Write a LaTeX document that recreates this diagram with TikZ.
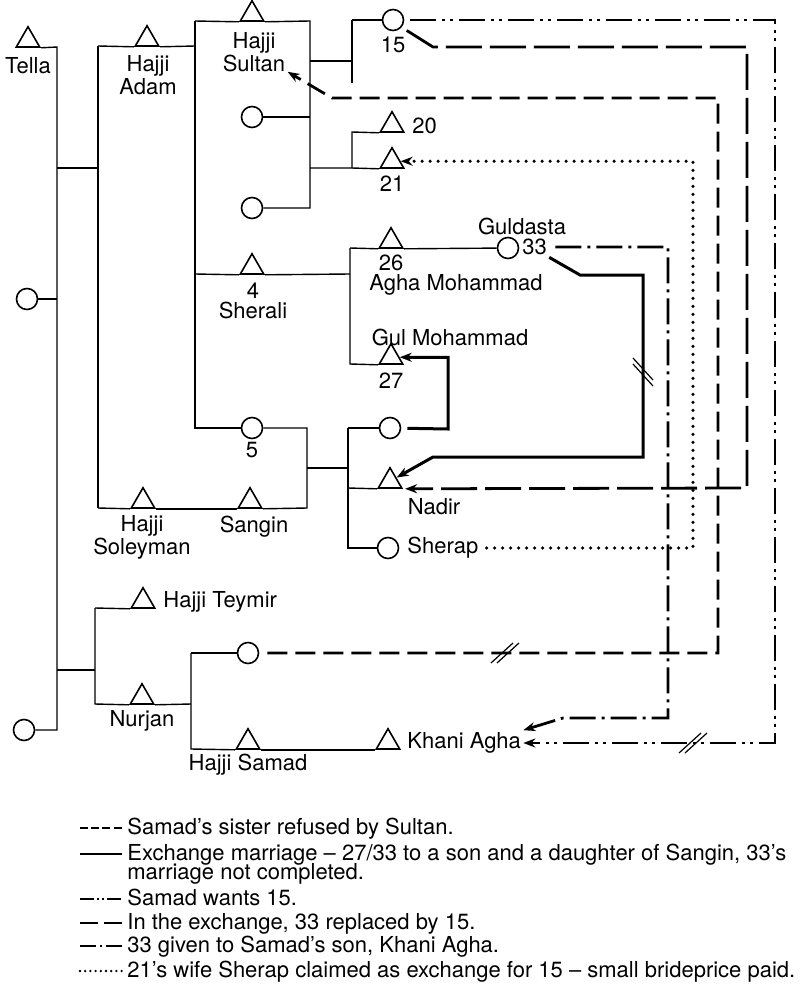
\documentclass[tikz,border=0pt]{standalone}
\usepackage{fontspec}
\setmainfont{TeX Gyre Heros}
\usepackage{tikz}
\usetikzlibrary{arrows.meta,shapes.geometric}
\tikzset{
  male/.style    ={regular polygon,regular polygon sides=3,draw,fill=white,line width=0.8pt,minimum size=13.5pt,inner sep=0pt},
  female/.style  ={circle,draw,fill=white,line width=0.8pt,minimum size=10.5pt,inner sep=0pt},
  kin/.style     ={line width=0.7pt},
  lbl/.style     ={font=\fontsize{11}{10}\selectfont,inner sep=1pt,align=center},
  refused/.style ={line width=1.4pt,dash pattern=on 10pt off 4pt},
  exch/.style    ={line width=1.5pt},
  wants/.style   ={line width=1.4pt,dash pattern=on 13pt off 3pt on 1.5pt off 2.5pt on 1.5pt off 3pt},
  replaced/.style={line width=1.4pt,dash pattern=on 18pt off 4pt},
  given/.style   ={line width=1.4pt,dash pattern=on 13pt off 3pt on 1.5pt off 3pt},
  claim/.style   ={line width=1.8pt,line cap=round,dash pattern=on 0pt off 4pt},
  arr/.style     ={-{Stealth[length=6pt,width=4.5pt]}},
  brk/.pic       ={\draw[line width=0.6pt] (-14,10) -- (8,-10) (-8,10) -- (14,-10);},
  % shorter patterns for the key
  key-refused/.style ={refused,line width=1.1pt,dash pattern=on 4pt off 1.6pt},
  key-exch/.style    ={line width=0.9pt},
  key-wants/.style   ={wants,line width=1.1pt,dash pattern=on 7pt off 1.5pt on 1pt off 1.5pt on 1pt off 1.5pt},
  key-replaced/.style={replaced,line width=1.1pt,dash pattern=on 9pt off 3pt},
  key-given/.style   ={given,line width=1.1pt,dash pattern=on 8pt off 2pt on 1pt off 2pt},
  key-claim/.style   ={claim,line width=1.3pt,dash pattern=on 0pt off 2.6pt},
}
\begin{document}
\begin{tikzpicture}[x=0.5pt,y=-0.5pt]
  \useasboundingbox (0,0) rectangle (806,985);
  % people
  \foreach \n/\x/\y in {tella/28/40.25,adam/147/39.25,sultan/252/14.25,t20/392/125.25,t21/392/161.25,
      sherali/252/267.25,t26/391/241.25,t27/391/357.25,soley/143/501.25,sangin/250/501.25,
      nadir/390/481.25,teymir/143/601.25,nurjan/142/697.25,samad/248/742.25,khani/388/742.25}
     \node[male] (\n) at (\x,\y){};
  \foreach \n/\x/\y in {w1/27/299,w2/24/730,wa/252/117,wb/252/208,c15/393/20,c33/508/248,
      five/252/428,cu/390/428,sherap/388/548,cs/248/653}
     \node[female] (\n) at (\x,\y){};
  % junctions
  \foreach \n/\x/\y in {v0/57/47,v1/57/168,v2/57/299,v3/57/670,v4/57/730,
      a0/98/46,a1/98/168,a2/98/508,b0/195/21,b1/195/46,b2/195/274,b3/195/428,
      e0/310/21,e1/310/61,e2/310/117,e3/310/168,e4/310/208,
      f0/352/20,f1/352/61,f2/352/83,f3/352/132,f4/352/168,
      g0/350/248,g1/350/274,g2/350/364,c0/307/428,c1/307/468,c2/307/508,
      d0/348/428,d1/348/468,d2/348/488,d3/348/548,h0/95/608,h1/95/670,h2/95/704,
      i0/191/653,i1/191/704,i2/191/749}
     \coordinate (\n) at (\x,\y);
  \begin{scope}[kin]
    \draw (tella.corner 3)--(v0)--(v4)--(w2);
    \draw (w1)--(v2);
    \draw (v1)--(a1);
    \draw (v3)--(h1);
    \draw (a0)--(a2);
    \draw (a0)--(adam.corner 2);
    \draw (adam.corner 3)--(b1);
    \draw (a2)--(soley.corner 2);
    \draw (soley.corner 3)--(sangin.corner 2);
    \draw (sangin.corner 3)--(c2)--(c0)--(five);
    \draw (b0)--(b3)--(five);
    \draw (b0)--(sultan.corner 2);
    \draw (sultan.corner 3)--(e0)--(e4)--(wb);
    \draw (wa)--(e2);
    \draw (e1)--(f1);
    \draw (f0)--(f2);
    \draw (f0)--(c15);
    \draw (e3)--(f4)--(f3)--(t20.corner 2);
    \draw (f4)--(t21.corner 2);
    \draw (b2)--(sherali.corner 2);
    \draw (sherali.corner 3)--(g1);
    \draw (g0)--(g2)--(t27.corner 2);
    \draw (g0)--(t26.corner 2);
    \draw (t26.corner 3)--(c33);
    \draw (c1)--(d1);
    \draw (d0)--(d3)--(sherap);
    \draw (d0)--(cu);
    \draw (d2)--(nadir.corner 2);
    \draw (h0)--(h2)--(nurjan.corner 2);
    \draw (h0)--(teymir.corner 2);
    \draw (nurjan.corner 3)--(i1);
    \draw (i0)--(i2)--(samad.corner 2);
    \draw (i0)--(cs);
    \draw (samad.corner 3)--(khani.corner 2);
  \end{scope}
  % names
  \node[lbl] at (28,66){Tella};
  \node[lbl] at (148,75){Hajji\\Adam};
  \node[lbl] (sultanL) at (254,52){Hajji\\Sultan};
  \node[lbl] at (393,45){15};
  \node[lbl,anchor=west] at (410,126){20};
  \node[lbl] at (392,184){21};
  \node[lbl] at (253,301){4\\Sherali};
  \node[lbl] at (391,263){26};
  \node[lbl] at (456,285){Agha Mohammad};
  \node[lbl] at (522,226){Guldasta};
  \node[lbl,anchor=west] (lbl33) at (520,247){33};
  \node[lbl] at (450,337){Gul Mohammad};
  \node[lbl] at (391,381){27};
  \node[lbl] at (252,450){5};
  \node[lbl] at (434,507){Nadir};
  \node[lbl,anchor=west] (sherapL) at (405,548){Sherap};
  \node[lbl] at (142,537){Hajji\\Soleyman};
  \node[lbl] at (254,527){Sangin};
  \node[lbl,anchor=west] at (161,602){Hajji Teymir};
  \node[lbl] at (142,721){Nurjan};
  \node[lbl] at (248,765){Hajji Samad};
  \node[lbl,anchor=west] (khaniL) at (405,743){Khani Agha};
  % exchanges
  \foreach \n/\x/\y in {r1/718/653,r2/718/98,r3/332/98,m1/775/20,p1/433/47,p2/747/47,p3/747/488,
      x1/580/275,x2/643/275,x3/643/457,x4/433/457,k1/448/429,y1/668/247,y2/668/718,y3/563/718,z1/693/548}
     \coordinate (\n) at (\x,\y);
  \draw[refused,arr,shorten <=4pt] (cs)--(r1)--(r2)--(r3)--(sultanL);
  \draw[wants,arr,shorten <=3pt] (c15)--(m1)|-(khaniL.east);
  \draw[replaced,arr,shorten <=3pt,shorten >=1pt] (c15.-40)--(p1)--(p2)--(p3)--(nadir.corner 3);
  \draw[exch,arr] (lbl33.south east)--(x1)--(x2)--(x3)--(x4)--(nadir);
  \draw[exch,arr,shorten <=3pt] (cu)--(k1)|-(t27);
  \draw[given,arr,shorten <=3pt] (lbl33)--(y1)--(y2)--(y3)--(khaniL.north east);
  \draw[claim,arr,shorten <=3pt] (sherapL)--(z1)|-(t21);
  \pic at (505,653){brk};
  \pic at (693,743){brk};
  \pic[rotate=90] at (643,372){brk};
  % key
  \foreach \s/\yy/\t in {refused/834/{Samad’s sister refused by Sultan.},
      exch/860/{Exchange marriage – 27/33 to a son and a daughter of Sangin, 33’s},
      wants/905/{Samad wants 15.},
      replaced/929/{In the exchange, 33 replaced by 15.},
      given/952/{33 given to Samad’s son, Khani Agha.},
      claim/977/{21’s wife Sherap claimed as exchange for 15 – small brideprice paid.}}{
     \coordinate (ka\s) at (80,\yy-6);
     \coordinate (kb\s) at (122,\yy-6);
     \draw[key-\s] (ka\s)--(kb\s);
     \node[lbl,anchor=base west] (kt\s) at (125,\yy){\t};
  }
  \node[lbl,anchor=base west] (ktexch2) at (125,879){marriage not completed.};
\end{tikzpicture}
\end{document}
